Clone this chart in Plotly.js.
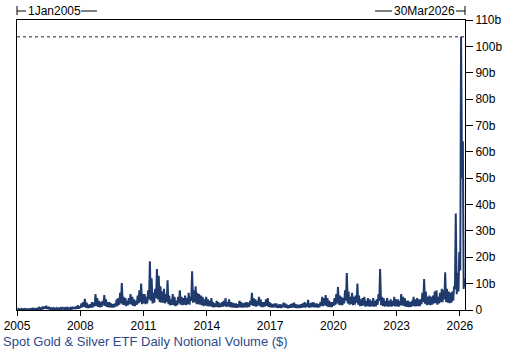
<!DOCTYPE html>
<html>
<head>
<meta charset="utf-8">
<script src="https://cdn.plot.ly/plotly-3.0.1.min.js"></script>
<style>
  html, body { margin: 0; padding: 0; background: #fff; }
  #chart { width: 505px; height: 353px; }
</style>
</head>
<body>
<div id="chart"></div>
<script>
// ---- Data (billions of USD), one high and one low per month, Jan 2005 .. Mar 2026 ----
const startYear = 2005;
const monthlyHighs = [
  // 2005
  0.4,0.3,0.4,0.3,0.4,0.3,0.3,0.4,0.5,0.5,0.4,0.6,
  // 2006
  0.8,0.7,0.9,1.3,1.6,1.2,0.8,0.6,0.7,0.6,0.7,0.6,
  // 2007
  0.7,0.8,0.9,0.7,0.8,0.9,0.8,1.2,1.1,1.0,1.8,1.4,
  // 2008
  2.5,3.0,4.2,2.8,2.0,2.2,3.0,2.8,6.0,4.5,3.5,3.0,
  // 2009
  3.5,5.7,4.0,3.0,3.0,2.5,2.2,2.5,4.0,4.5,6.5,10.2,
  // 2010
  5.0,4.5,3.5,4.5,6.0,5.0,4.0,3.5,5.5,7.5,10.0,6.0,
  // 2011
  6.0,5.0,7.5,18.5,12.0,6.5,8.0,15.5,13.0,9.0,7.0,8.0,
  // 2012
  6.0,11.3,5.5,4.0,6.0,5.0,3.5,5.0,7.5,5.0,4.5,5.5,
  // 2013
  4.5,6.5,5.0,14.7,7.5,9.0,6.5,6.0,5.5,5.0,4.0,5.0,
  // 2014
  4.0,3.5,4.5,3.0,2.5,3.5,3.0,2.5,3.0,3.5,4.5,3.0,
  // 2015
  4.0,3.0,2.8,2.5,2.5,2.2,3.5,3.0,2.5,2.8,3.0,2.8,
  // 2016
  3.5,6.5,4.5,4.0,3.5,5.0,4.0,3.0,3.0,4.0,4.5,3.0,
  // 2017
  2.5,2.2,2.5,2.5,2.0,2.2,2.0,2.8,2.5,2.0,1.8,2.2,
  // 2018
  2.5,2.8,2.2,2.0,2.0,2.2,2.5,3.0,2.5,3.8,2.5,2.8,
  // 2019
  3.0,2.5,2.5,2.2,3.0,5.0,4.5,5.7,4.5,3.5,3.0,3.0,
  // 2020
  4.5,6.0,8.7,5.5,5.0,4.5,7.5,14.0,7.0,5.0,6.5,5.0,
  // 2021
  5.5,10.0,5.5,4.0,4.5,5.0,3.5,4.5,4.0,3.5,4.5,3.5,
  // 2022
  4.0,6.0,15.5,5.0,4.5,3.5,4.5,3.5,4.0,3.5,5.0,4.0,
  // 2023
  4.0,3.5,6.0,5.0,4.5,3.5,3.5,3.0,3.5,5.0,4.0,4.5,
  // 2024
  4.0,4.0,6.5,11.7,7.0,5.0,5.5,5.0,5.5,7.0,7.5,5.0,
  // 2025
  6.5,8.0,7.5,14.3,8.0,7.0,6.5,7.0,9.0,36.6,14.0,22.0,
  // 2026
  103.6,64.0,12.0
];
const monthlyLows = [
  0.1,0.1,0.1,0.1,0.1,0.1,0.1,0.1,0.2,0.2,0.2,0.2,
  0.3,0.3,0.3,0.4,0.5,0.4,0.3,0.3,0.3,0.3,0.3,0.3,
  0.3,0.3,0.3,0.3,0.3,0.3,0.3,0.4,0.4,0.4,0.5,0.5,
  0.8,1.0,1.2,0.9,0.7,0.8,0.9,1.0,1.5,1.5,1.2,1.0,
  1.2,1.8,1.5,1.2,1.0,1.0,0.9,1.0,1.3,1.5,2.0,2.5,
  2.0,1.8,1.5,1.8,2.2,2.0,1.6,1.5,2.0,2.5,3.0,2.2,
  2.5,2.2,2.5,4.0,3.5,2.5,2.8,4.5,4.0,3.0,2.8,2.8,
  2.5,3.0,2.2,1.8,2.0,1.8,1.5,1.8,2.5,2.0,1.8,2.0,
  1.8,2.2,2.0,3.5,2.8,3.0,2.2,2.2,2.0,1.8,1.5,1.8,
  1.5,1.4,1.5,1.1,1.0,1.2,1.1,1.0,1.2,1.3,1.5,1.2,
  1.4,1.1,1.0,0.9,0.9,0.8,1.1,1.0,0.9,1.0,1.0,1.0,
  1.2,2.0,1.6,1.5,1.3,1.8,1.5,1.1,1.1,1.4,1.6,1.2,
  1.0,0.9,1.0,1.0,0.8,0.9,0.8,1.0,1.0,0.8,0.7,0.8,
  0.9,1.0,0.8,0.8,0.8,0.8,0.9,1.0,0.9,1.2,0.9,1.0,
  1.1,1.0,1.0,0.9,1.1,1.6,1.5,1.8,1.5,1.2,1.1,1.1,
  1.6,2.0,2.5,2.0,1.8,1.8,2.5,3.5,2.5,2.0,2.2,1.8,
  2.0,2.8,2.0,1.5,1.6,1.8,1.3,1.5,1.4,1.3,1.5,1.3,
  1.4,2.0,3.5,1.8,1.6,1.3,1.5,1.3,1.4,1.3,1.6,1.4,
  1.4,1.3,1.8,1.7,1.6,1.3,1.2,1.1,1.2,1.6,1.4,1.5,
  1.5,1.5,2.2,3.0,2.4,1.8,2.0,1.8,2.0,2.5,2.6,2.0,
  2.5,3.0,3.0,4.0,3.0,2.8,2.6,2.8,3.5,8.0,6.0,7.0,
  15.0,50.0,8.0
];
const yearTicks = [2005,2008,2011,2014,2017,2020,2023,2026];
const volTicks = [0,10,20,30,40,50,60,70,80,90,100,110];
const rangeStart = '2005-01-01', rangeEnd = '2026-03-30';
const rangeStartLabel = '1Jan2005', rangeEndLabel = '30Mar2026';
const chartTitle = 'Spot Gold & Silver ETF Daily Notional Volume ($)';

// ---- Build series ----
function pad(n){ return (n < 10 ? '0' : '') + n; }
const xs = [], ys = [];
for (let i = 0; i < monthlyHighs.length; i++) {
  const y = startYear + Math.floor(i / 12);
  const m = (i % 12) + 1;
  xs.push(y + '-' + pad(m) + '-07'); ys.push(monthlyLows[i]);
  xs.push(y + '-' + pad(m) + '-21'); ys.push(monthlyHighs[i]);
}
const maxVal = Math.max.apply(null, ys);

// ---- Layout helpers (pixel -> paper) ----
const W = 505, H = 353, ML = 17, MR = 40, MT = 20, MB = 43;
const PW = W - ML - MR, PH = H - MT - MB;
const px = v => (v - ML) / PW;
const py = v => (H - MB - v) / PH;

const font = 'Arial, "Liberation Sans", sans-serif';
const lineStyle = {color: '#000', width: 1};

const shapes = [
  {type:'line', xref:'paper', yref:'y', x0:0, x1:1, y0:maxVal, y1:maxVal,
   line:{color:'#222', width:1, dash:'3px,3px'}},
  // left range marker
  {type:'line', xref:'paper', yref:'paper', x0:px(17), x1:px(17), y0:py(6), y1:py(15), line:lineStyle},
  {type:'line', xref:'paper', yref:'paper', x0:px(17), x1:px(26), y0:py(11), y1:py(11), line:lineStyle},
  {type:'line', xref:'paper', yref:'paper', x0:px(81), x1:px(97), y0:py(11), y1:py(11), line:lineStyle},
  // right range marker
  {type:'line', xref:'paper', yref:'paper', x0:px(375), x1:px(392), y0:py(11), y1:py(11), line:lineStyle},
  {type:'line', xref:'paper', yref:'paper', x0:px(456), x1:px(465), y0:py(11), y1:py(11), line:lineStyle},
  {type:'line', xref:'paper', yref:'paper', x0:px(465), x1:px(465), y0:py(6), y1:py(15), line:lineStyle}
];

const annotations = [
  {xref:'paper', yref:'paper', x:px(26), y:py(11), xanchor:'left', yanchor:'middle',
   text:rangeStartLabel, showarrow:false, font:{family:font, size:12, color:'#000'}},
  {xref:'paper', yref:'paper', x:px(457), y:py(11), xanchor:'right', yanchor:'middle',
   text:rangeEndLabel, showarrow:false, font:{family:font, size:12, color:'#000'}},
  {xref:'paper', yref:'paper', x:px(1), y:py(341), xanchor:'left', yanchor:'middle',
   text:chartTitle, showarrow:false, font:{family:font, size:13, color:'#2b4a8b'}}
];

const trace = {
  x: xs, y: ys, type: 'scatter', mode: 'lines',
  line: {color: '#1f3a6d', width: 2},
  hoverinfo: 'skip'
};

const layout = {
  width: W, height: H,
  margin: {l: ML, r: MR, t: MT, b: MB, pad: 0},
  paper_bgcolor: '#fff', plot_bgcolor: '#fff',
  showlegend: false,
  font: {family: font, size: 12, color: '#000'},
  xaxis: {
    type: 'date', range: [rangeStart, rangeEnd],
    tickvals: yearTicks.map(y => y + '-01-01'),
    ticktext: yearTicks.map(String),
    ticks: 'outside', ticklen: 5, tickcolor: '#000', tickwidth: 1,
    showline: true, linecolor: '#000', linewidth: 1, mirror: true,
    showgrid: false, zeroline: false,
    tickfont: {family: font, size: 12, color: '#000'}
  },
  yaxis: {
    range: [0, 110], side: 'right',
    tickvals: volTicks,
    ticktext: volTicks.map(v => v === 0 ? '0' : v + 'b'),
    ticks: 'outside', ticklen: 7, tickcolor: '#000', tickwidth: 1,
    showline: true, linecolor: '#000', linewidth: 1, mirror: true,
    showgrid: false, zeroline: false,
    tickfont: {family: font, size: 12, color: '#000'}
  },
  shapes: shapes,
  annotations: annotations
};

Plotly.newPlot('chart', [trace], layout, {displayModeBar: false, staticPlot: true});
</script>
</body>
</html>
